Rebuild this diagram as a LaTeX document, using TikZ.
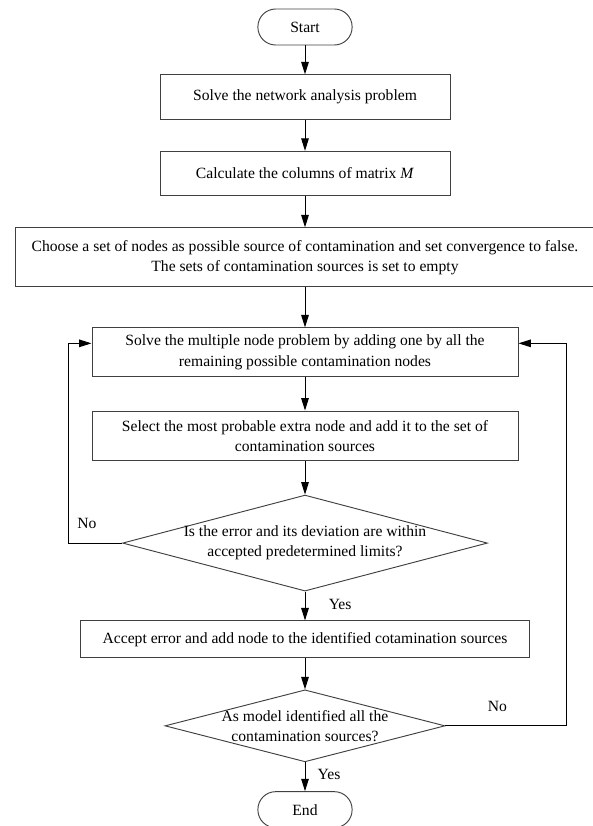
\documentclass[tikz,border=0pt]{standalone}
\usepackage{fontspec}
\setmainfont{Liberation Serif}
\usetikzlibrary{arrows.meta,positioning,calc,shapes.geometric}
\tikzset{
  proc/.style={draw=black!75, line width=0.6pt, align=center, minimum height=1cm,
               inner sep=2pt, font=\fontsize{10pt}{13pt}\selectfont},
  term/.style={draw=black!75, line width=0.6pt, rounded corners=4mm,
               minimum width=2.12cm, minimum height=0.81cm},
  decision/.style={draw=black!75, line width=0.6pt, diamond, inner sep=0pt},
  dectext/.style={align=center, font=\fontsize{10pt}{13pt}\selectfont},
  flowarrow/.style={-{Triangle[length=2.8mm,width=1.7mm]}, line width=0.6pt}
}

\begin{document}
\begin{tikzpicture}[node distance=7mm]
\useasboundingbox (0,0) rectangle (13.3425,-18.585);
\node[term] (start) at (6.8625,-0.6075) {Start};
\node[proc, below=6.5mm of start, minimum width=6.525cm] (solve) {Solve the network analysis problem};
\node[proc, below=of solve, minimum width=6.525cm] (cols) {Calculate the columns of matrix \textit{M}};
\node[proc, below=of cols, minimum width=13.05cm, minimum height=1.33cm] (choose)
  {Choose a set of nodes as possible source of contamination and set convergence to false.\\
   The sets of contamination sources is set to empty};
\node[proc, below=9mm of choose, minimum width=9.585cm, minimum height=1.1cm] (multi)
  {Solve the multiple node problem by adding one by all the\\ remaining possible contamination nodes};
\node[proc, below=7.5mm of multi, minimum width=9.585cm, minimum height=1.12cm] (select)
  {Select the most probable extra node and add it to the set of\\ contamination sources};
\node[decision, below=7.5mm of select, minimum width=8.21cm, minimum height=2.16cm] (err) {};
\node[dectext] (errtxt) at (err) {Is the error and its deviation are within\\ accepted predetermined limits?};
\node[proc, below=6.5mm of err, minimum width=10.1cm, minimum height=0.83cm] (accept)
  {Accept error and add node to the identified cotamination sources};
\node[decision, below=of accept, minimum width=6.3cm, minimum height=1.62cm] (all) {};
\node[dectext] (alltxt) at (all) {As model identified all the\\ contamination sources?};
\node[term, below=6.5mm of all] (end) {End};

% main line
\draw[flowarrow] (start) -- (solve);
\draw[flowarrow] (solve) -- (cols);
\draw[flowarrow] (cols) -- (choose);
\draw[flowarrow] (choose) -- (multi);
\draw[flowarrow] (multi) -- (select);
\draw[flowarrow] (select) -- (err);
\draw[flowarrow] (err) -- (accept);
\draw[flowarrow] (accept) -- (all);
\draw[flowarrow] (all) -- (end);

% loops back
\coordinate (multiinL) at ($(multi.north west)!0.32!(multi.south west)$);
\coordinate (multiinR) at ($(multi.north east)!0.32!(multi.south east)$);
\draw[flowarrow] (err.west) -- ++(-1.215,0) |- (multiinL);
\draw[flowarrow] (all.east) -- ++(2.72,0) |- (multiinR);

\node (errno) at ($(err.west)+(-0.79,0.45)$) {No};
\node (erryes) at ($(err.south)+(0.79,-0.29)$) {Yes};
\node (allno) at ($(all.east)+(1.17,0.43)$) {No};
\node (allyes) at ($(all.south)+(0.54,-0.27)$) {Yes};
\end{tikzpicture}
\end{document}
